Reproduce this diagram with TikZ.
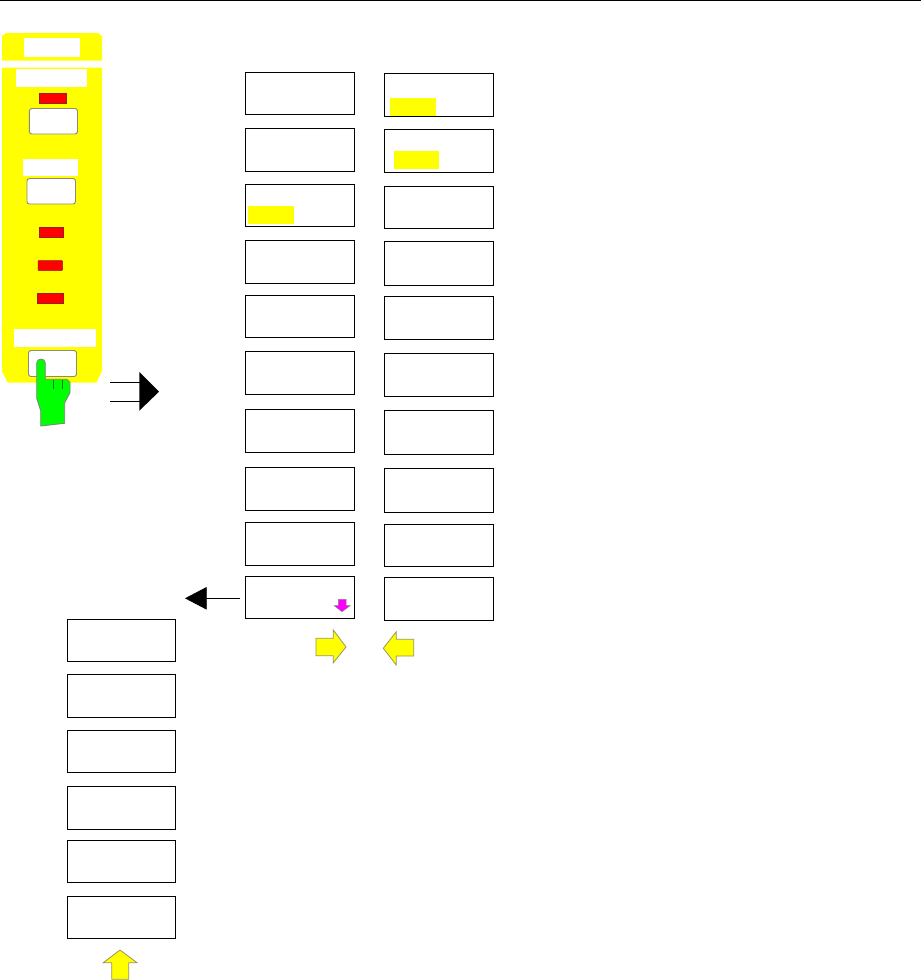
\documentclass[tikz,border=0pt]{standalone}
\usetikzlibrary{arrows.meta}
\definecolor{pureyellow}{RGB}{255,255,0}
\definecolor{puremagenta}{RGB}{255,0,255}
\definecolor{purered}{RGB}{255,0,0}
\definecolor{puregreen}{RGB}{0,255,0}
\definecolor{olivegray}{RGB}{150,150,90}
\definecolor{keygray}{RGB}{140,140,110}
\definecolor{leddark}{RGB}{150,30,30}
\definecolor{handline}{RGB}{0,130,0}
\tikzset{
  softkey/.style={draw=black,line width=1.2pt,fill=white,rectangle,inner sep=0pt,outer sep=0pt,anchor=north west},
  mark box/.style={fill=pureyellow,draw=none},
  white label/.style={fill=white,draw=none},
  led/.style={fill=purered,draw=leddark,line width=0.5pt},
  panel key/.style={draw=keygray,line width=0.9pt,fill=white,rounded corners=2.5pt},
  yellow arrow/.style={fill=pureyellow,draw=olivegray,line width=0.8pt,line join=miter},
  thin link/.style={draw=black,line width=0.9pt},
}
% name, left, top, right, bottom
\newcommand{\keybox}[5]{%
  \pgfmathsetmacro{\kw}{#4-#2}\pgfmathsetmacro{\kh}{#5-#3}%
  \node[softkey,minimum width=\kw pt,minimum height=\kh pt] (#1) at (#2,#3) {};}
\begin{document}
\begin{tikzpicture}[x=1pt,y=-1pt]
\useasboundingbox (0,0) rectangle (921,980);
\fill[white] (0,0) rectangle (921,980);
\draw[black,line width=1.2pt] (0,0.6) -- (921,0.6);

% front panel
\fill[pureyellow] (2,36) -- (6,33) -- (98,33) -- (102,36) -- (102,60.7) -- (2,60.7) -- cycle;
\fill[pureyellow] (2,67.7) -- (102,67.7) -- (102,371) -- (96.5,382.7) -- (8,382.7) -- (2,371.7) -- cycle;
\fill[white label] (24,38) rectangle (80,57);
\fill[white label] (16,69) rectangle (87,87);
\fill[white label] (23,159) rectangle (78,176);
\fill[white label] (14,329) rectangle (96,347);
\draw[led] (39,93) rectangle (66,103.5);
\draw[led] (39,227) rectangle (63.5,237);
\draw[led,rounded corners=0.8pt] (38,260.5) rectangle (62.5,270.5);
\draw[led] (37.3,293.3) rectangle (63.3,303.5);
\draw[panel key] (29.3,108.5) rectangle (77.5,134);
\draw[panel key] (27,178.5) rectangle (75.5,204);
\draw[panel key] (28.5,350.5) rectangle (76.5,376.5);

% pressing hand
\draw[fill=puregreen,draw=gray,line width=0.8pt,line join=round]
  (36.7,363) .. controls (36.7,357.7) and (45.3,357.7) .. (45.3,363)
  -- (45.3,379.3) -- (67,379.3) -- (70,382.5) -- (70,392.7) -- (64.7,402.7) -- (64.7,423.3)
  -- (40.7,426) -- (40.7,410.7) -- (36.7,398.3) -- cycle;
\draw[draw=handline,line width=0.6pt] (53.3,380) -- (53.3,389) (62.3,380) -- (62.3,389);

% link from the hand to the softkey columns
\coordinate (linkA) at (110,382.3);
\coordinate (linkB) at (110,401.3);
\coordinate (triA) at (139.5,382.3);
\coordinate (triB) at (139.5,401.3);
\draw[thin link] (linkA) -- (triA);
\draw[thin link] (linkB) -- (triB);
\fill[black] (139.3,372) -- (159,391.7) -- (139.3,410.7) -- cycle;

% softkey column 1
\keybox{a1}{245.3}{72.7}{354.3}{114.3}
\keybox{a2}{245.3}{128.7}{354.3}{171.3}
\keybox{a3}{245.3}{184.7}{354.3}{226.3}
\keybox{a4}{245.3}{240.3}{354.3}{283.3}
\keybox{a5}{245.3}{295.3}{354.3}{337.3}
\keybox{a6}{245.3}{351.3}{354.3}{394.3}
\keybox{a7}{245.3}{409.3}{354.3}{452.3}
\keybox{a8}{245.3}{467.3}{354.3}{510.3}
\keybox{a9}{245.3}{522.3}{354.3}{565.3}
\keybox{a10}{245.3}{576.3}{354.3}{618.3}

% softkey column 2
\keybox{b1}{384.3}{73.7}{493.3}{116.3}
\keybox{b2}{384.3}{129.7}{493.3}{172.3}
\keybox{b3}{384.3}{186.7}{493.3}{228.3}
\keybox{b4}{384.3}{241.3}{493.3}{285.3}
\keybox{b5}{384.3}{296.3}{493.3}{339.3}
\keybox{b6}{384.3}{353.3}{493.3}{396.3}
\keybox{b7}{384.3}{410.3}{493.3}{454.3}
\keybox{b8}{384.3}{468.3}{493.3}{512.3}
\keybox{b9}{384.3}{524.3}{493.3}{566.3}
\keybox{b10}{384.3}{577.3}{493.3}{620.3}

% softkey column 0
\keybox{c1}{67.3}{619.3}{175.3}{661.3}
\keybox{c2}{67.3}{674.3}{175.3}{717.3}
\keybox{c3}{67.3}{730.3}{175.3}{772.3}
\keybox{c4}{67.3}{786.3}{175.3}{829.3}
\keybox{c5}{67.3}{840.3}{175.3}{882.3}
\keybox{c6}{67.3}{896.3}{175.3}{938.3}

% highlighted fields
\fill[mark box] (390,98) rectangle (436,115.6);
\fill[mark box] (394,151) rectangle (439,169);
\fill[mark box] (248,206) rectangle (294,224);

% sub-menu connector
\coordinate (subStart) at (240.3,598.3);
\coordinate (subEnd) at (185,598.3);
\draw[thin link,-{Triangle[length=21.7pt,width=22.5pt]}] (subStart) -- (subEnd);

% magenta down arrow
\draw[fill=puremagenta,draw=gray,line width=0.5pt] (338.3,599.3) -- (346,599.3) -- (346,605.7) -- (350,605.7) -- (342,611.7) -- (334.3,605.7) -- (338.3,605.7) -- cycle;

% yellow arrows
\draw[yellow arrow] (316,638.3) -- (333.3,638.3) -- (333.3,630) -- (346,647) -- (333.3,662.7) -- (333.3,655.7) -- (316,655.7) -- cycle;
\draw[yellow arrow] (413.7,639.3) -- (396.3,639.3) -- (396.3,631.7) -- (383.3,648.3) -- (396.3,665) -- (396.3,656) -- (413.7,656) -- cycle;
\draw[yellow arrow] (111.7,979.3) -- (111.7,962.7) -- (103.3,962.7) -- (120,950) -- (137,962.7) -- (128.7,962.7) -- (128.7,979.3) -- cycle;
\end{tikzpicture}
\end{document}
